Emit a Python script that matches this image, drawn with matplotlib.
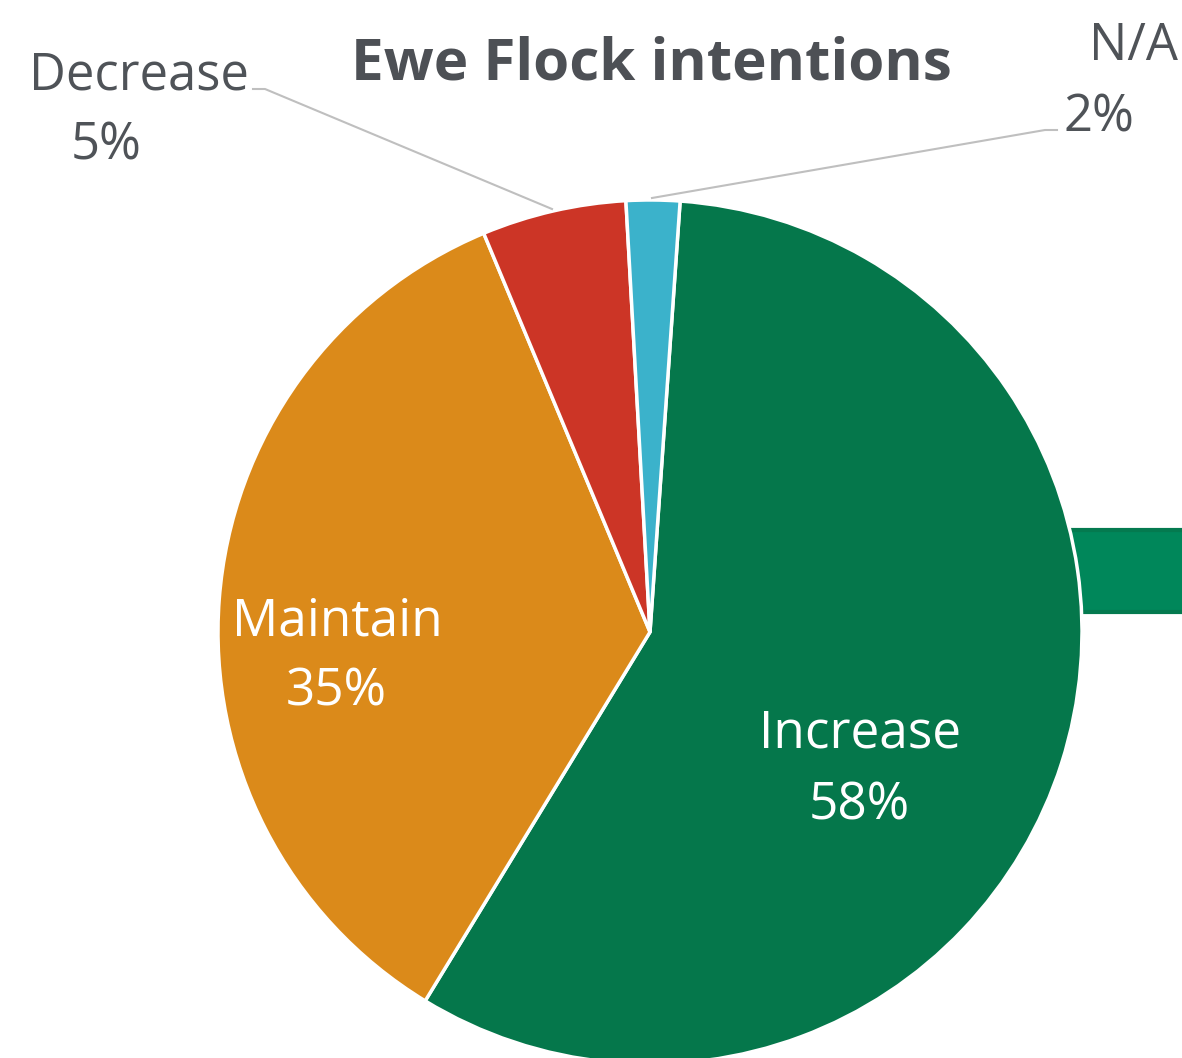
import matplotlib
matplotlib.use("Agg")
import matplotlib.pyplot as plt
from matplotlib.patches import Rectangle

plt.rcParams['font.family'] = ['Open Sans', 'DejaVu Sans']

# data
categories = ["Increase", "Maintain", "Decrease", "N/A"]
values = [57.6, 35.0, 5.4, 2.0]
colors = ["#05774B", "#DB8A1A", "#CC3526", "#3BB2CB"]

W, H = 1182, 1058
fig = plt.figure(figsize=(W / 100, H / 100), dpi=100)
ax = fig.add_axes([0, 0, 1, 1])

# piece of the neighbouring chart peeking in on the right
ax.add_patch(Rectangle((1035, H - 612), 200, 82, facecolor="#00875A",
                       edgecolor="#047A4F", linewidth=3, zorder=0))

wedges, _ = ax.pie(values, colors=colors, startangle=86, counterclock=False,
                   center=(650, H - 632), radius=432,
                   wedgeprops=dict(edgecolor="white", linewidth=2.5))

ax.set_xlim(0, W)
ax.set_ylim(0, H)
ax.set_aspect("auto")
ax.axis("off")

pct = [f"{v:.0f}%" for v in values]
grey = "#4F5358"


def label(x, y, s, color, size, **kw):
    ax.text(x, H - y, s, color=color, fontsize=size, ha="center",
            va="baseline", **kw)


# labels inside
label(860, 747, categories[0], "white", 37)
label(859, 820, pct[0], "white", 37)
label(337, 635, categories[1], "white", 37)
label(336, 705, pct[1], "white", 37)

# labels outside with leader lines
label(139, 90, categories[2], grey, 36.5)
label(106, 160, pct[2], grey, 36.5)
ax.plot([253, 265, 552], [H - 89, H - 89, H - 209], color="#BFBFBF", lw=1.5)

label(1133, 60, categories[3], grey, 36.5)
label(1099, 132, pct[3], grey, 36.5)
ax.plot([652, 1045, 1057], [H - 198, H - 130, H - 130], color="#BFBFBF", lw=1.5)

label(651, 80, "Ewe Flock intentions", "#4D5055", 42, fontweight="bold")

fig.savefig("out.png", dpi=100)
